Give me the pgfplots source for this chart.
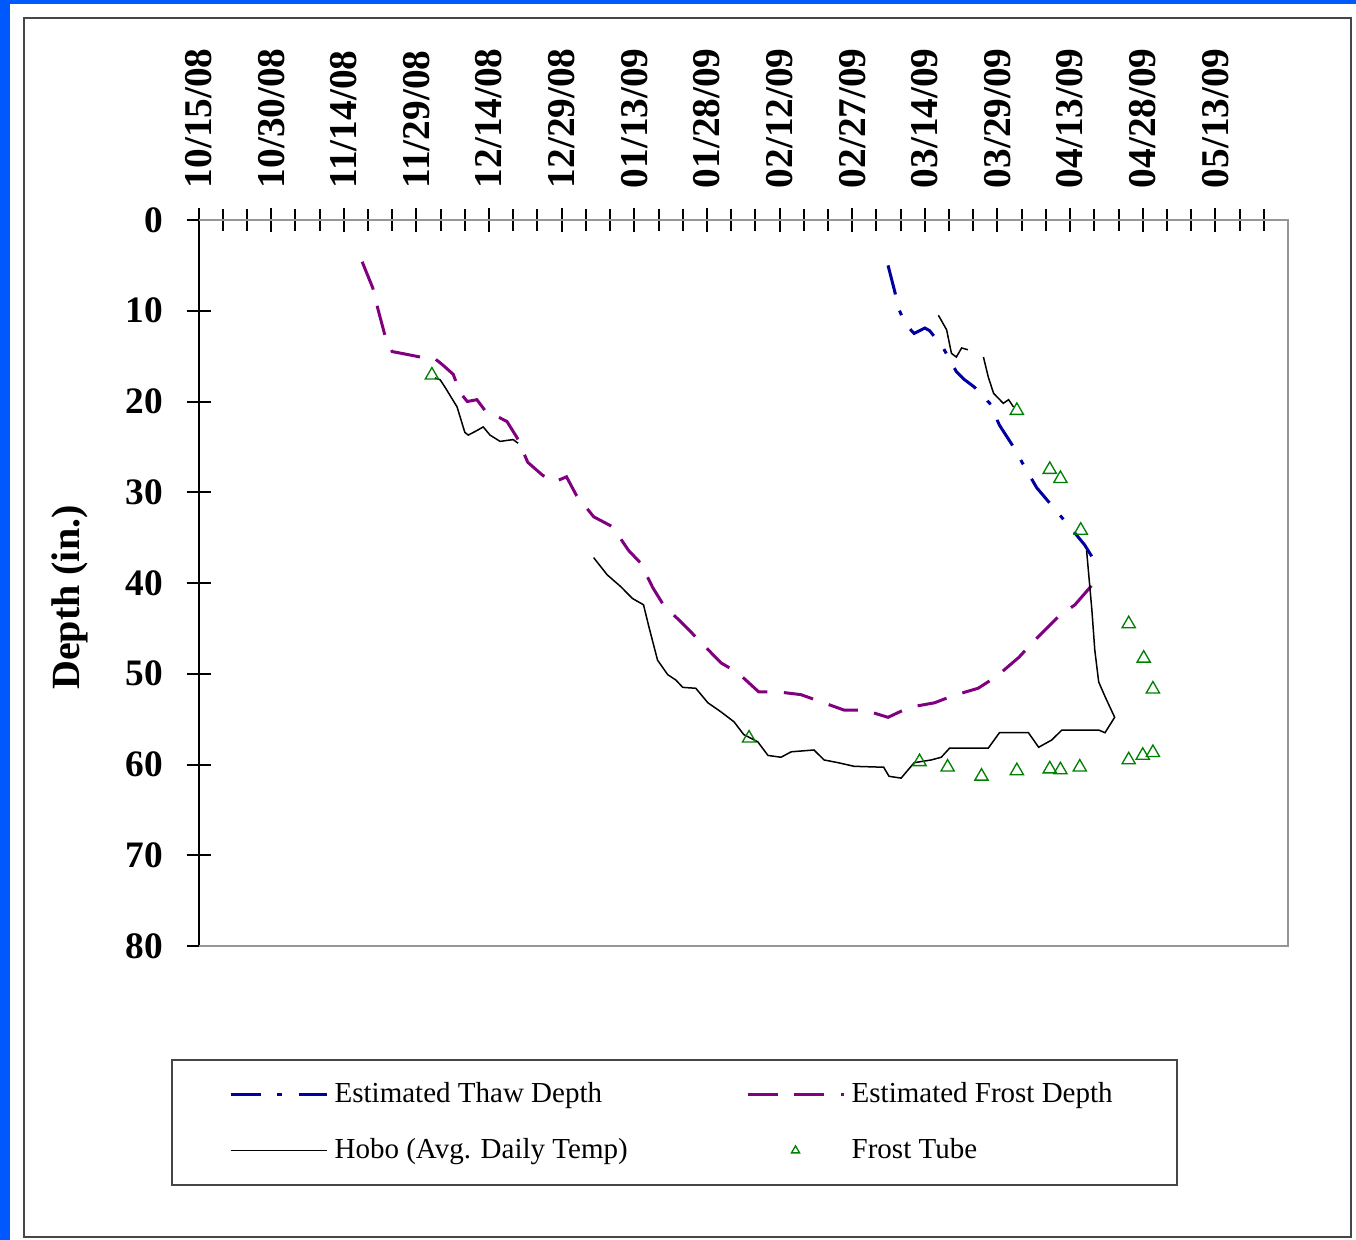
\documentclass[border=0pt]{standalone}
\usepackage{pgfplots}
\pgfplotsset{compat=1.18}
\usepackage{fontspec}
\setmainfont{Liberation Serif}
\definecolor{slideblue}{RGB}{0,88,255}
\definecolor{thawblue}{RGB}{0,0,160}
\definecolor{frostpurple}{RGB}{128,0,128}
\definecolor{tubegreen}{RGB}{0,128,0}
\definecolor{framegray}{RGB}{70,70,70}
\definecolor{boxgray}{RGB}{150,150,150}
\pgfplotsset{
  longline/.style={legend image code/.code={\draw[##1] (0pt,0pt) -- (28.8pt,0pt);}},
  onemark/.style={legend image code/.code={\draw[##1, mark size=1.4pt] plot coordinates {(14.4pt,0pt)};}},
}
\begin{document}
\begin{tikzpicture}
\fill[slideblue] (0pt,0pt) rectangle (406.8pt,372pt);
\fill[white] (3pt,0pt) rectangle (406.8pt,370.8pt);
\draw[framegray, line width=0.6pt] (7.2pt,0.9pt) rectangle (405.3pt,366.6pt);
\begin{axis}[
  at={(59.55pt,88.2pt)}, anchor=south west,
  scale only axis, width=326.85pt, height=217.8pt,
  xmin=0, xmax=225, ymin=0, ymax=80, y dir=reverse,
  axis x line=top, axis y line=left,
  axis line style={black, line width=0.6pt, -},
  tick align=center,
  major tick length=7.2pt, minor tick length=6.4pt,
  tick style={black, line width=0.6pt},
  xtick={0,15,...,210},
  xticklabels={10/15/08,10/30/08,11/14/08,11/29/08,12/14/08,12/29/08,01/13/09,01/28/09,02/12/09,02/27/09,03/14/09,03/29/09,04/13/09,04/28/09,05/13/09},
  minor xtick={5,10,...,220},
  ytick={0,10,...,80},
  /pgf/number format/assume math mode=true,
  xticklabel style={rotate=90, anchor=west, xshift=2.4pt, font=\bfseries\fontsize{11.8}{12}\selectfont},
  yticklabel style={xshift=-3.6pt, font=\bfseries\fontsize{11.2}{12}\selectfont},
  ylabel={Depth (in.)},
  ylabel style={at={(axis description cs:-0.1185,0.48)}, anchor=center, rotate=0, font=\bfseries\fontsize{12}{14}\selectfont},
  legend columns=2,
  legend cell align=left,
  legend style={at={(axis description cs:0.4366,-0.2431)}, anchor=center,
    draw=framegray, line width=0.6pt, inner xsep=17.2pt, inner ysep=4.5pt,
    font=\fontsize{8.7}{10}\selectfont, row sep=5.3pt,
    /tikz/every even column/.append style={column sep=33.5pt}},
  clip=false,
]
\draw[boxgray, line width=0.6pt] (axis cs:0,0) -- (axis cs:225,0) -- (axis cs:225,80) -- (axis cs:0,80);

\addplot[thawblue, line width=0.9pt, dash pattern=on 9pt off 5pt on 1.5pt off 5pt, longline]
coordinates {
(142.4,5) (143.7,7.7) (144.7,9.9) (146,11.5) (147.8,12.5) (150,11.9) (151,12.2)
(153.8,14.1) (156.5,16.7) (158.2,17.6) (160.2,18.4) (163.4,20.2) (165.4,22.6)
(168.3,25) (170.6,27.2) (173.1,29.5) (176.6,31.7) (179.9,33.8) (183,35.8) (185.9,38.3)
};
\addlegendentry{Estimated Thaw Depth}

\addplot[frostpurple, line width=0.9pt, dash pattern=on 9pt off 5pt, longline]
coordinates {
(33.8,4.6) (36,7.5) (37,9.7) (38.5,12.7) (40,14.5) (42,14.7) (45.8,15.1) (48.4,15.1)
(50.5,16) (52.6,17) (54,19) (55.5,20) (57.5,19.8) (59.6,21.3) (61.5,21.6) (63.7,22.2)
(65.8,24) (68,26.7) (71,28.1) (73.3,28.9) (76,28.3) (78,30.3) (81.6,32.7) (85.5,33.8)
(88.8,36.4) (91.3,37.8) (93.8,40.5) (96,42.4) (100.6,44.8) (103.7,46.5) (107.9,48.8)
(111.4,49.9) (115.7,52) (119.7,52) (124.4,52.3) (128.6,53.1) (133.3,54) (137.5,54)
(142.4,54.8) (146.8,53.7) (152,53.2) (155.9,52.4) (161,51.6) (164.8,50.3) (169.4,48.2)
(172.7,46.3) (177.6,43.7) (181,42.4) (184.9,40)
};
\addlegendentry{Estimated Frost Depth\hspace{8.5pt}}

\addplot[black, line width=0.45pt, unbounded coords=jump, longline]
coordinates {
(48.8,17.4) (49.9,17.6) (51,18.5) (53.4,20.6) (55,23.4) (55.7,23.7) (57.5,23.2)
(58.8,22.8) (60.2,23.7) (62.3,24.4) (63.5,24.3) (65,24.2) (66,24.6)
(66,nan)
(81.6,37.2) (84.4,39.1) (87.2,40.4) (89.6,41.7) (91.9,42.4) (93,44.8) (94.8,48.5)
(96.9,50.1) (98.6,50.7) (100,51.5) (102.7,51.6) (105.2,53.2) (107.9,54.2) (110.6,55.3)
(112.6,56.7) (115.5,57.5) (117.6,59) (120.3,59.2) (122.4,58.6) (127.1,58.4) (129.2,59.5)
(132.1,59.8) (135.4,60.2) (141.5,60.3) (142.6,61.3) (145.1,61.5) (147.8,59.8) (151.3,59.5)
(153.4,59.2) (155.1,58.2) (163.1,58.2) (165.4,56.5) (171.4,56.5) (173.5,58.1) (176.2,57.3)
(178.3,56.2) (185.9,56.2) (187.2,56.5) (189.2,54.8) (187.2,52.5) (185.9,50.9) (185.1,47.4)
(184.5,43) (184,40) (183.4,36.4)
(183.4,nan)
(152.8,10.5) (154.5,12.1) (155.5,14.7) (156.5,15.1) (157.6,14.1) (158.9,14.3)
(158.9,nan)
(162.1,15.1) (163.1,17.3) (164.2,19.1) (166.2,20.2) (167.3,19.8) (168.3,20.6)
};
\addlegendentry{Hobo (Avg. Daily Temp)}

\addplot[only marks, mark=triangle, mark size=2.3pt, tubegreen, mark options={line width=0.4pt}, onemark]
coordinates {
(48.2,17.1) (113.7,57.1) (148.9,59.7) (154.7,60.3) (161.7,61.3) (169,60.7) (169,21.0)
(175.8,60.5) (178,60.6) (182,60.3) (175.8,27.5) (178,28.5) (182.2,34.2) (192.1,44.5)
(195.2,48.3) (197.1,51.7) (192.1,59.5) (195,59) (197.1,58.7)
};
\addlegendentry{Frost Tube}
\end{axis}
\end{tikzpicture}
\end{document}
